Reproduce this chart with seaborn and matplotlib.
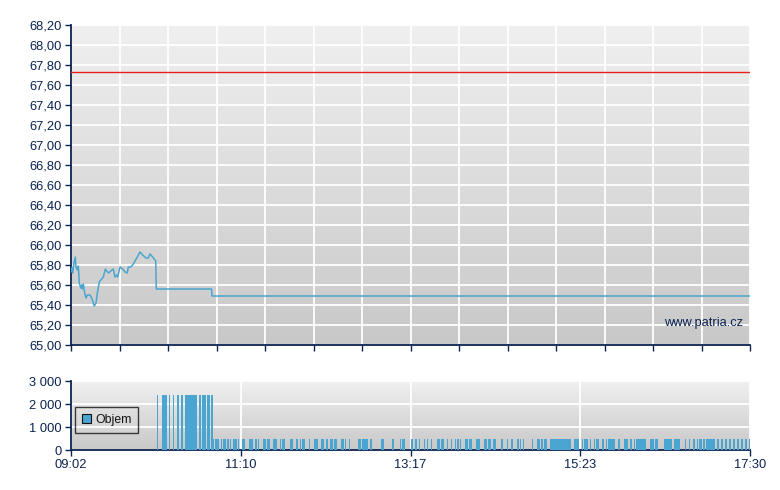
import numpy as np
import pandas as pd
import matplotlib
matplotlib.use("Agg")
import matplotlib.pyplot as plt
from matplotlib.colors import LinearSegmentedColormap
import seaborn as sns

# ---------------- data (minutes since 09:02) ----------------
price_minutes = [0, 0.6, 1.3, 2.2, 3.2, 3.7, 4.7, 5.5, 6.2, 7.3, 8.0, 8.5, 9.2, 10.2, 11.2,
                 12.2, 14.2, 15.5, 17.4, 18.7, 19.7, 21.2, 23.0, 24.2, 25.7, 26.7, 28.2,
                 29.7, 31.6, 32.9, 34.2, 34.9, 36.7, 38.7, 40.4, 42.1, 42.9, 44.7, 46.6,
                 49.2, 51.6, 53.6, 56.1, 57.8, 59.1, 61.1, 63.4, 63.8, 105.2, 105.4, 508]
price_values = [65.73, 65.77, 65.72, 65.82, 65.88, 65.78, 65.75, 65.79, 65.62, 65.57, 65.60,
                65.56, 65.61, 65.52, 65.47, 65.50, 65.50, 65.47, 65.39, 65.42, 65.52, 65.63,
                65.66, 65.68, 65.76, 65.74, 65.72, 65.74, 65.76, 65.68, 65.70, 65.68, 65.78,
                65.76, 65.73, 65.72, 65.78, 65.78, 65.81, 65.87, 65.93, 65.90, 65.87, 65.87,
                65.91, 65.88, 65.84, 65.56, 65.56, 65.49, 65.49]
reference_price = 67.73

tall_minutes = [64, 68, 69, 70, 71, 73, 76, 79, 80, 82, 83, 85, 86, 87, 88, 89, 90, 91, 92, 93,
                96, 98, 99, 100, 102, 103, 105]
short_minutes = [106, 108, 109, 110, 112, 114, 115, 117, 119, 121, 122, 123, 125, 128, 129,
                 133, 134, 135, 138, 140, 144, 145, 147, 148, 151, 152, 153, 156, 158, 159,
                 164, 165, 168, 169, 171, 173, 174, 178, 182, 183, 184, 187, 188, 191, 194,
                 195, 197, 198, 202, 203, 205, 208, 215, 216, 218, 219, 220, 221, 224, 232,
                 233, 240, 241, 246, 248, 249, 254, 255, 257, 258, 260, 264, 266, 269, 274,
                 275, 277, 278, 281, 284, 287, 289, 291, 295, 296, 298, 299, 303, 304, 305,
                 309, 310, 312, 313, 316, 317, 322, 326, 329, 330, 334, 336, 338, 345, 349,
                 350, 352, 354, 355, 358, 359, 360, 361, 362, 363, 364, 365, 366, 367, 368,
                 369, 370, 371, 372, 373, 376, 377, 378, 379, 382, 384, 385, 386, 388, 391,
                 393, 394, 397, 398, 400, 402, 403, 404, 405, 406, 409, 410, 414, 415, 416,
                 418, 419, 421, 423, 424, 425, 426, 427, 428, 429, 433, 434, 435, 437, 438,
                 444, 445, 446, 447, 448, 449, 451, 452, 453, 454, 455, 459, 462, 465, 466,
                 468, 470, 471, 473, 475, 476, 477, 478, 479, 480, 481, 483, 484, 486, 487,
                 489, 490, 492, 493, 495, 496, 498, 499, 501, 502, 504, 505, 507]
tall_volume = 2400
short_volume = 470

vol_minutes = tall_minutes + short_minutes
vol_values = [tall_volume] * len(tall_minutes) + [short_volume] * len(short_minutes)

time_ticks = [0, 127, 254, 381, 508]
time_labels = ["09:02", "11:10", "13:17", "15:23", "17:30"]
price_ticks = [65.00 + 0.20 * i for i in range(17)]
vol_ticks = [0, 1000, 2000, 3000]
vol_labels = ["0", "1 000", "2 000", "3 000"]

# ---------------- style ----------------
sns.set_theme(style="white")
plt.rcParams["font.family"] = ["Liberation Sans", "DejaVu Sans"]
NAVY = "#0b2350"
BLUE = "#4aa6d0"
T_MAX = 508
FS = 9.3

fig = plt.figure(figsize=(7.8, 4.9), dpi=100)
ax = fig.add_axes([71 / 780, 1 - 345 / 490, 679 / 780, 320 / 490])
axv = fig.add_axes([71 / 780, 1 - 450 / 490, 679 / 780, 69 / 490])

grad_cmap = LinearSegmentedColormap.from_list("g", ["#f0f0f0", "#c8c8c8"])
grad = np.linspace(1, 0, 256).reshape(-1, 1)   # row 0 (bottom) dark


def style_axes(a, ymin, ymax):
    a.set_facecolor("none")
    a.imshow(grad, extent=[0, T_MAX, ymin, ymax], aspect="auto", cmap=grad_cmap,
             vmin=0, vmax=1, zorder=0, origin="lower")
    a.set_xlim(0, T_MAX)
    a.set_ylim(ymin, ymax)
    for s in ["top", "right"]:
        a.spines[s].set_visible(False)
    for s in ["left", "bottom"]:
        a.spines[s].set_color(NAVY)
        a.spines[s].set_linewidth(1.3)
    a.tick_params(axis="both", colors=NAVY, labelcolor=NAVY, length=4, width=1,
                  direction="out", labelsize=FS, bottom=True, left=True, pad=2.5)
    a.set_axisbelow(True)
    a.grid(True, color="white", linewidth=1.3, zorder=0.5)
    a.set_xlabel("")
    a.set_ylabel("")


# ---------------- price panel ----------------
style_axes(ax, 65.0, 68.2)
price_df = pd.DataFrame({"t": price_minutes, "p": price_values})
sns.lineplot(data=price_df, x="t", y="p", ax=ax, color=BLUE, linewidth=1.1,
             estimator=None, sort=False, zorder=3)
ax.axhline(reference_price, color="#e8201c", linewidth=1.0, zorder=3)
ax.set_xlim(0, T_MAX)
ax.set_xticks(np.linspace(0, T_MAX, 15))
ax.set_xticklabels([])
ax.set_yticks(price_ticks)
ax.set_yticklabels([f"{v:.2f}".replace(".", ",") for v in price_ticks])
ax.set_xlabel("")
ax.set_ylabel("")
ax.text(0.99, 0.069, "www.patria.cz", transform=ax.transAxes, ha="right", va="center",
        color=NAVY, fontsize=FS, zorder=4)

# ---------------- volume panel ----------------
style_axes(axv, 0, 3000)
axv.bar(vol_minutes, vol_values, width=1.0, align="edge", color=BLUE, linewidth=0,
        zorder=3, label="Objem", antialiased=False)
axv.set_xticks(time_ticks)
axv.set_xticklabels(time_labels)
axv.set_yticks(vol_ticks)
axv.set_yticklabels(vol_labels)
axv.xaxis.grid(True)
leg = axv.legend(loc="lower left", bbox_to_anchor=(0.006, 0.25), borderaxespad=0,
                 frameon=True, fancybox=False, handlelength=0.75, handleheight=0.75,
                 handletextpad=0.35, borderpad=0.55, fontsize=8.8)
leg.get_frame().set_edgecolor("#111111")
leg.get_frame().set_facecolor("none")
leg.get_frame().set_linewidth(1.0)
for h in leg.legend_handles:
    h.set_edgecolor("#111111")
    h.set_linewidth(0.8)
for t in leg.get_texts():
    t.set_color("#111111")

fig.savefig("out.png", dpi=100, facecolor="white")
